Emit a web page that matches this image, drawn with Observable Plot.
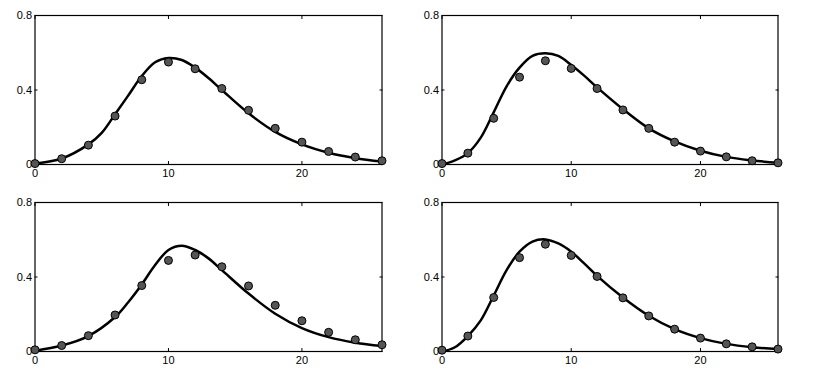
<!DOCTYPE html>
<html>
<head>
<meta charset="utf-8">
<script src="https://cdn.jsdelivr.net/npm/d3@7"></script>
<script src="https://cdn.jsdelivr.net/npm/@observablehq/plot@0.6"></script>
<style>
  html, body { margin: 0; padding: 0; background: #fff; }
  #chart { position: relative; width: 817px; height: 376px; background: #fff; }
  #chart svg { position: absolute; overflow: visible; }
</style>
</head>
<body>
<div id="chart"></div>
<script>
// Sample times of the observed points
const sampleX = [0, 2, 4, 6, 8, 10, 12, 14, 16, 18, 20, 22, 24, 26];

// Observed values (dots), one array per panel
const obsTopLeft     = [0.005, 0.031, 0.104, 0.26, 0.455, 0.55, 0.514, 0.408, 0.291, 0.194, 0.12, 0.07, 0.04, 0.02];
const obsTopRight    = [0.005, 0.061, 0.248, 0.469, 0.557, 0.516, 0.408, 0.293, 0.194, 0.12, 0.072, 0.041, 0.02, 0.009];
const obsBottomLeft  = [0.009, 0.032, 0.085, 0.196, 0.354, 0.489, 0.518, 0.455, 0.352, 0.248, 0.165, 0.103, 0.063, 0.036];
const obsBottomRight = [0.007, 0.083, 0.29, 0.504, 0.576, 0.516, 0.403, 0.288, 0.191, 0.12, 0.072, 0.041, 0.025, 0.013];

// Fitted curves
const fitX1 = [0, 2, 4, 5, 6, 7, 8, 9, 10, 11, 12, 13, 14, 16, 18, 20, 22, 24, 26];
const fitTopLeft = [0.005, 0.032, 0.108, 0.17, 0.27, 0.372, 0.475, 0.549, 0.572, 0.561, 0.52, 0.464, 0.40, 0.275, 0.175, 0.108, 0.063, 0.034, 0.016];

const fitX2 = [0, 1, 2, 3, 4, 5, 6, 7, 8, 9, 10, 11, 12, 14, 16, 18, 20, 22, 24, 26];
const fitTopRight = [0.0, 0.022, 0.061, 0.144, 0.28, 0.42, 0.52, 0.583, 0.597, 0.583, 0.534, 0.477, 0.414, 0.297, 0.194, 0.124, 0.074, 0.041, 0.022, 0.009];

const fitX3 = [0, 2, 4, 6, 7, 8, 9, 10, 11, 12, 13, 14, 16, 18, 20, 22, 24, 26];
const fitBottomLeft = [0.004, 0.032, 0.083, 0.185, 0.266, 0.36, 0.464, 0.545, 0.568, 0.545, 0.5, 0.437, 0.311, 0.203, 0.126, 0.077, 0.047, 0.029];

const fitX4 = [0, 1, 2, 3, 4, 5, 6, 7, 8, 9, 10, 11, 12, 14, 16, 18, 20, 22, 24, 26];
const fitBottomRight = [0.0, 0.023, 0.083, 0.167, 0.30, 0.437, 0.536, 0.59, 0.602, 0.58, 0.536, 0.473, 0.406, 0.29, 0.192, 0.12, 0.072, 0.041, 0.023, 0.013];

const xTicks = [0, 10, 20];
const yTicks = [0, 0.4, 0.8];
const yTickLabels = ["0", "0.4", "0.8"];

const panels = [
  {obs: obsTopLeft,     fx: fitX1, fy: fitTopLeft,     left: 0,   top: 0,   ml: 34.5, mr: 26.5, mt: 15, mb: 24},
  {obs: obsTopRight,    fx: fitX2, fy: fitTopRight,    left: 408, top: 0,   ml: 33.5, mr: 38.5, mt: 15, mb: 24},
  {obs: obsBottomLeft,  fx: fitX3, fy: fitBottomLeft,  left: 0,   top: 188, ml: 34.5, mr: 26.5, mt: 14, mb: 25},
  {obs: obsBottomRight, fx: fitX4, fy: fitBottomRight, left: 408, top: 188, ml: 33.5, mr: 38.5, mt: 14, mb: 25}
];

const chart = document.getElementById("chart");
const font = "'Liberation Sans', Arial, sans-serif";

for (const p of panels) {
  const dots = sampleX.map((x, i) => ({x, y: p.obs[i]}));
  const fit = p.fx.map((x, i) => ({x, y: p.fy[i]}));
  const svg = Plot.plot({
    width: 408,
    height: 188,
    marginLeft: p.ml,
    marginRight: p.mr,
    marginTop: p.mt,
    marginBottom: p.mb,
    style: {fontFamily: font, fontSize: "11px", color: "black", background: "transparent"},
    x: {domain: [0, 26]},
    y: {domain: [0, 0.8]},
    marks: [
      // inward tick marks on all four sides
      Plot.axisX(xTicks, {anchor: "bottom", tickSize: -3, text: null, label: null, stroke: "black"}),
      Plot.axisX(xTicks, {anchor: "top", tickSize: -3, text: null, label: null, stroke: "black"}),
      Plot.axisY(yTicks, {anchor: "left", tickSize: -3, text: null, label: null, stroke: "black"}),
      Plot.axisY(yTicks, {anchor: "right", tickSize: -3, text: null, label: null, stroke: "black"}),
      // labels
      Plot.axisX(xTicks, {anchor: "bottom", tickSize: 0, tickPadding: 5, label: null, fill: "black",
        fontSize: 11, fontFamily: font, tickFormat: d => String(d)}),
      Plot.axisY(yTicks, {anchor: "left", tickSize: 0, tickPadding: 3, label: null, fill: "black",
        fontSize: 11, fontFamily: font, tickFormat: d => yTickLabels[yTicks.indexOf(d)]}),
      Plot.frame({stroke: "black", strokeWidth: 1.2}),
      Plot.line(fit, {x: "x", y: "y", curve: "catmull-rom", stroke: "black", strokeWidth: 2.5}),
      Plot.dot(dots, {x: "x", y: "y", r: 4, fill: "#555", stroke: "black", strokeWidth: 1})
    ]
  });
  svg.style.left = p.left + "px";
  svg.style.top = p.top + "px";
  chart.appendChild(svg);
}
</script>
</body>
</html>
